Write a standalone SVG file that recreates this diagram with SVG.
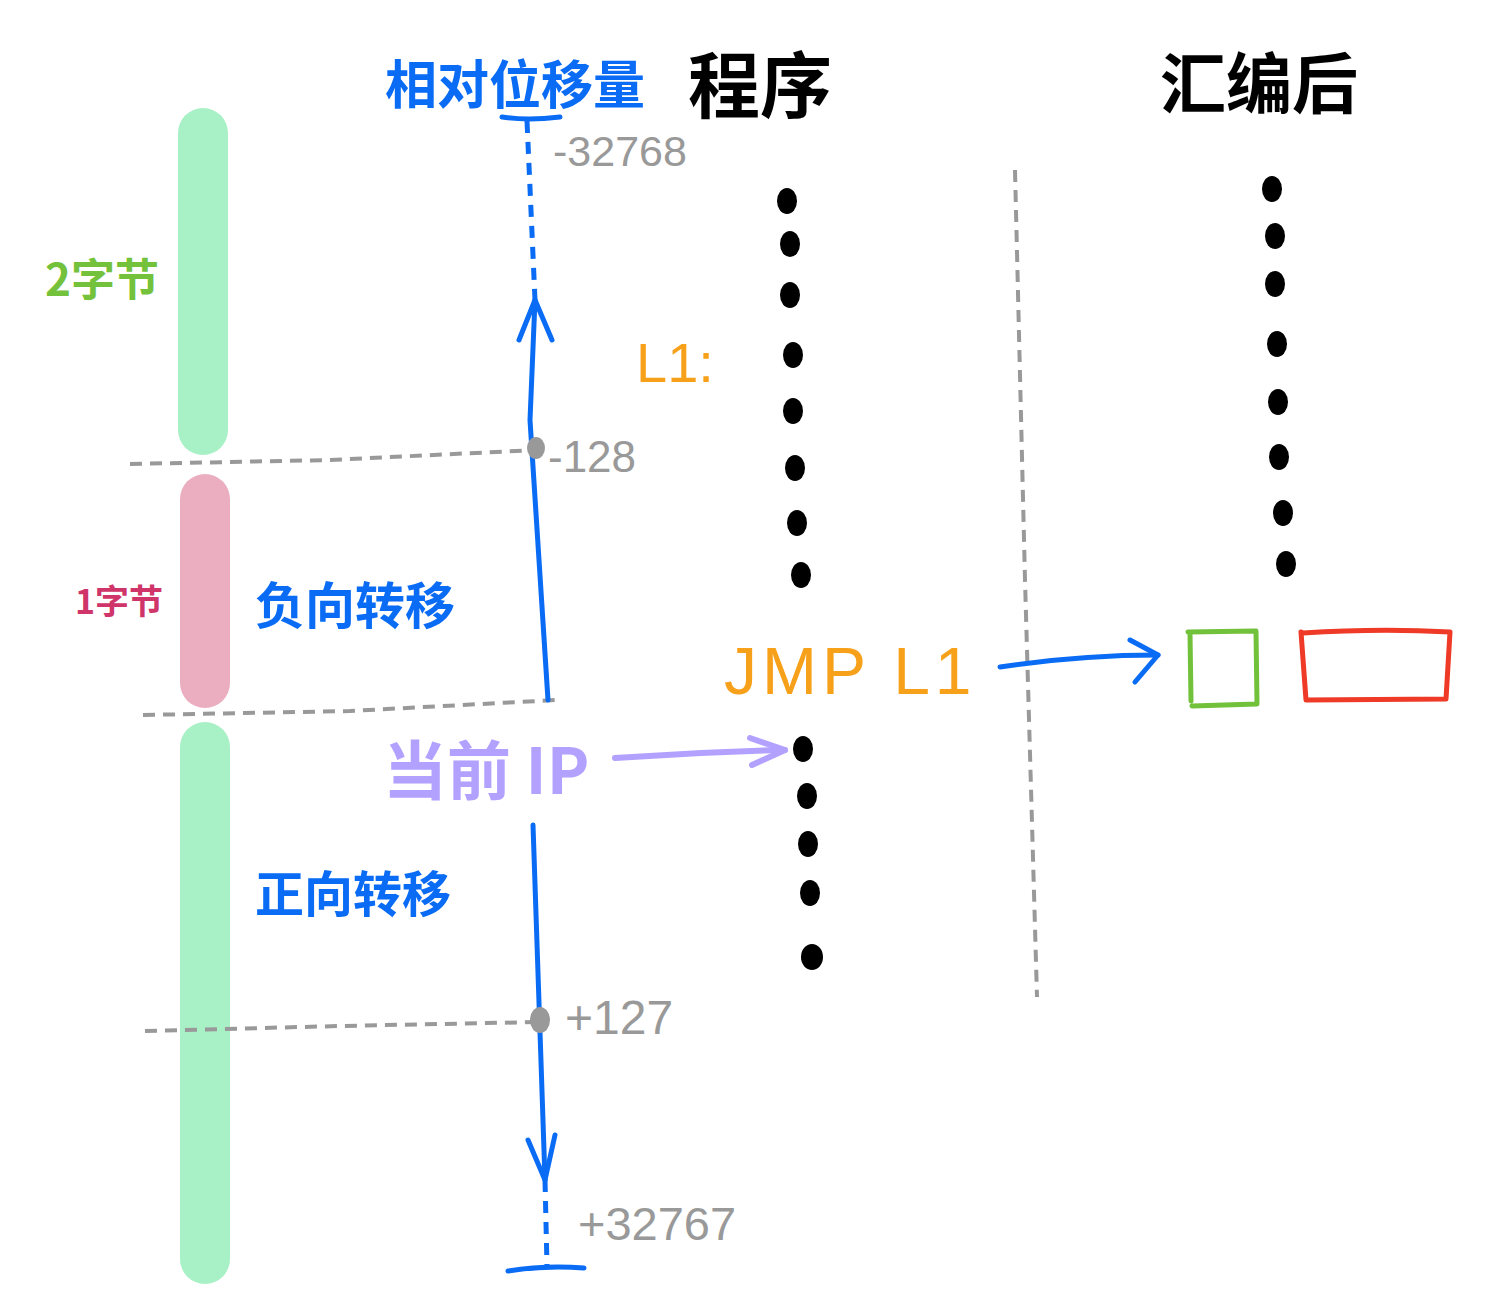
<svg xmlns="http://www.w3.org/2000/svg" width="1509" height="1292" viewBox="0 0 1509 1292">
<style>
.cjk{font-family:"Noto Sans CJK SC","Noto Sans",sans-serif;font-weight:bold}
.num{font-family:"Liberation Sans","DejaVu Sans",sans-serif;fill:#999999}
.lat{font-family:"Liberation Sans","DejaVu Sans",sans-serif}
.gdash{fill:none;stroke:#999999;stroke-width:4;stroke-dasharray:12 8;stroke-linecap:butt}
.blue{fill:none;stroke:#0a6cf5;stroke-width:5;stroke-linecap:round;stroke-linejoin:round}
.bdash{fill:none;stroke:#0a6cf5;stroke-width:5;stroke-dasharray:12 9}
.dot{fill:#000000}
</style>
<rect width="1509" height="1292" fill="#ffffff"/>
<g id="bar-2byte-top"><rect x="178" y="108" width="50" height="347" rx="25" fill="#a8f0c6"/></g>
<g id="bar-1byte"><rect x="180" y="474" width="50" height="234" rx="25" fill="#eaaec0"/></g>
<g id="bar-2byte-bottom"><rect x="180" y="722" width="50" height="562" rx="25" fill="#a8f0c6"/></g>
<g id="connectors">
<path class="gdash" d="M130 464 L330 460 L536 450"/>
<path class="gdash" d="M143 715 L350 711 L556 700"/>
<path class="gdash" d="M145 1031 L340 1026 L540 1022"/>
<path class="gdash" d="M1015 170 L1025 580 L1037 997" stroke-dasharray="14 9"/>
<path class="blue" d="M502 117 Q527 121 560 117"/>
<path class="bdash" d="M527 121 L535 300"/>
<path class="blue" d="M535 300 L530 420 L548 700"/>
<path class="blue" d="M519 340 L535 300 L552 340"/>
<path class="blue" d="M533 825 L545 1180"/>
<path class="blue" d="M528 1140 L545 1180 L555 1135"/>
<path class="bdash" d="M545 1180 L547 1266"/>
<path class="blue" d="M508 1271 Q545 1265 584 1268"/>
<ellipse cx="536" cy="448" rx="9" ry="11" fill="#999999"/>
<ellipse cx="540" cy="1020" rx="10" ry="13" fill="#999999"/>
<path d="M615 758 Q700 752 785 750" fill="none" stroke="#b3a1ff" stroke-width="6" stroke-linecap="round"/>
<path d="M750 738 L785 750 L752 765" fill="none" stroke="#b3a1ff" stroke-width="6" stroke-linecap="round" stroke-linejoin="round"/>
<path class="blue" d="M1000 667 Q1080 655 1158 655"/>
<path class="blue" d="M1130 640 L1158 655 L1135 682"/>
</g>
<g id="title-offset"><text class="cjk" x="385" y="104" font-size="52" fill="#0a6cf5">相对位移量</text></g>
<g id="title-program"><text class="cjk" x="688" y="112" font-size="72" fill="#000000">程序</text></g>
<g id="title-assembled"><text class="cjk" x="1160" y="108" font-size="66" fill="#000000">汇编后</text></g>
<g id="label-2byte"><text class="cjk" x="45" y="296" font-size="44" fill="#74c23b">2字节</text></g>
<g id="label-1byte"><text class="cjk" x="75" y="614" font-size="34" fill="#d0356a">1字节</text></g>
<g id="label-neg"><text class="cjk" x="255" y="624" font-size="50" fill="#0a6cf5">负向转移</text></g>
<g id="label-pos"><text class="cjk" x="255" y="912" font-size="49" fill="#0a6cf5">正向转移</text></g>
<g id="num-m32768"><text class="num" x="553" y="166" font-size="43">-32768</text></g>
<g id="num-m128"><text class="num" x="548" y="472" font-size="44">-128</text></g>
<g id="num-p127"><text class="num" x="565" y="1034" font-size="48">+127</text></g>
<g id="num-p32767"><text class="num" x="578" y="1240" font-size="47">+32767</text></g>
<g id="label-L1"><text class="lat" x="636" y="382" font-size="56" fill="#f7a11a">L1:</text></g>
<g id="label-jmp"><text class="lat" x="724" y="694" font-size="66" fill="#f7a11a" letter-spacing="5">JMP L1</text></g>
<g id="label-ip"><text class="cjk" x="383" y="794" font-size="64" fill="#b3a1ff" font-weight="normal">当前 IP</text></g>
<g id="program-dots-upper">
<ellipse class="dot" cx="787" cy="201" rx="10" ry="13"/>
<ellipse class="dot" cx="790" cy="244" rx="10" ry="13"/>
<ellipse class="dot" cx="790" cy="295" rx="10" ry="13"/>
<ellipse class="dot" cx="793" cy="355" rx="10" ry="13"/>
<ellipse class="dot" cx="793" cy="411" rx="10" ry="13"/>
<ellipse class="dot" cx="795" cy="468" rx="10" ry="13"/>
<ellipse class="dot" cx="797" cy="523" rx="10" ry="13"/>
<ellipse class="dot" cx="801" cy="575" rx="10" ry="13"/>
</g>
<g id="program-dots-lower">
<ellipse class="dot" cx="803" cy="749" rx="10" ry="13"/>
<ellipse class="dot" cx="807" cy="796" rx="10" ry="13"/>
<ellipse class="dot" cx="808" cy="844" rx="10" ry="13"/>
<ellipse class="dot" cx="810" cy="893" rx="10" ry="13"/>
<ellipse class="dot" cx="812" cy="957" rx="11" ry="13"/>
</g>
<g id="assembled-dots">
<ellipse class="dot" cx="1272" cy="189" rx="10" ry="13"/>
<ellipse class="dot" cx="1275" cy="236" rx="10" ry="13"/>
<ellipse class="dot" cx="1275" cy="284" rx="10" ry="13"/>
<ellipse class="dot" cx="1277" cy="344" rx="10" ry="13"/>
<ellipse class="dot" cx="1278" cy="402" rx="10" ry="13"/>
<ellipse class="dot" cx="1279" cy="457" rx="10" ry="13"/>
<ellipse class="dot" cx="1283" cy="513" rx="10" ry="13"/>
<ellipse class="dot" cx="1286" cy="564" rx="10" ry="13"/>
</g>
<g id="box-1byte"><path d="M1188 632 L1256 631 L1257 704 L1192 706 M1190 634 L1191 701" fill="none" stroke="#72c13a" stroke-width="5" stroke-linecap="round" stroke-linejoin="round"/></g>
<g id="box-2byte"><path d="M1303 633 Q1380 628 1450 632 L1446 699 L1306 700 L1301 632 Z" fill="none" stroke="#ee3a26" stroke-width="5" stroke-linecap="round" stroke-linejoin="round"/></g>
</svg>
